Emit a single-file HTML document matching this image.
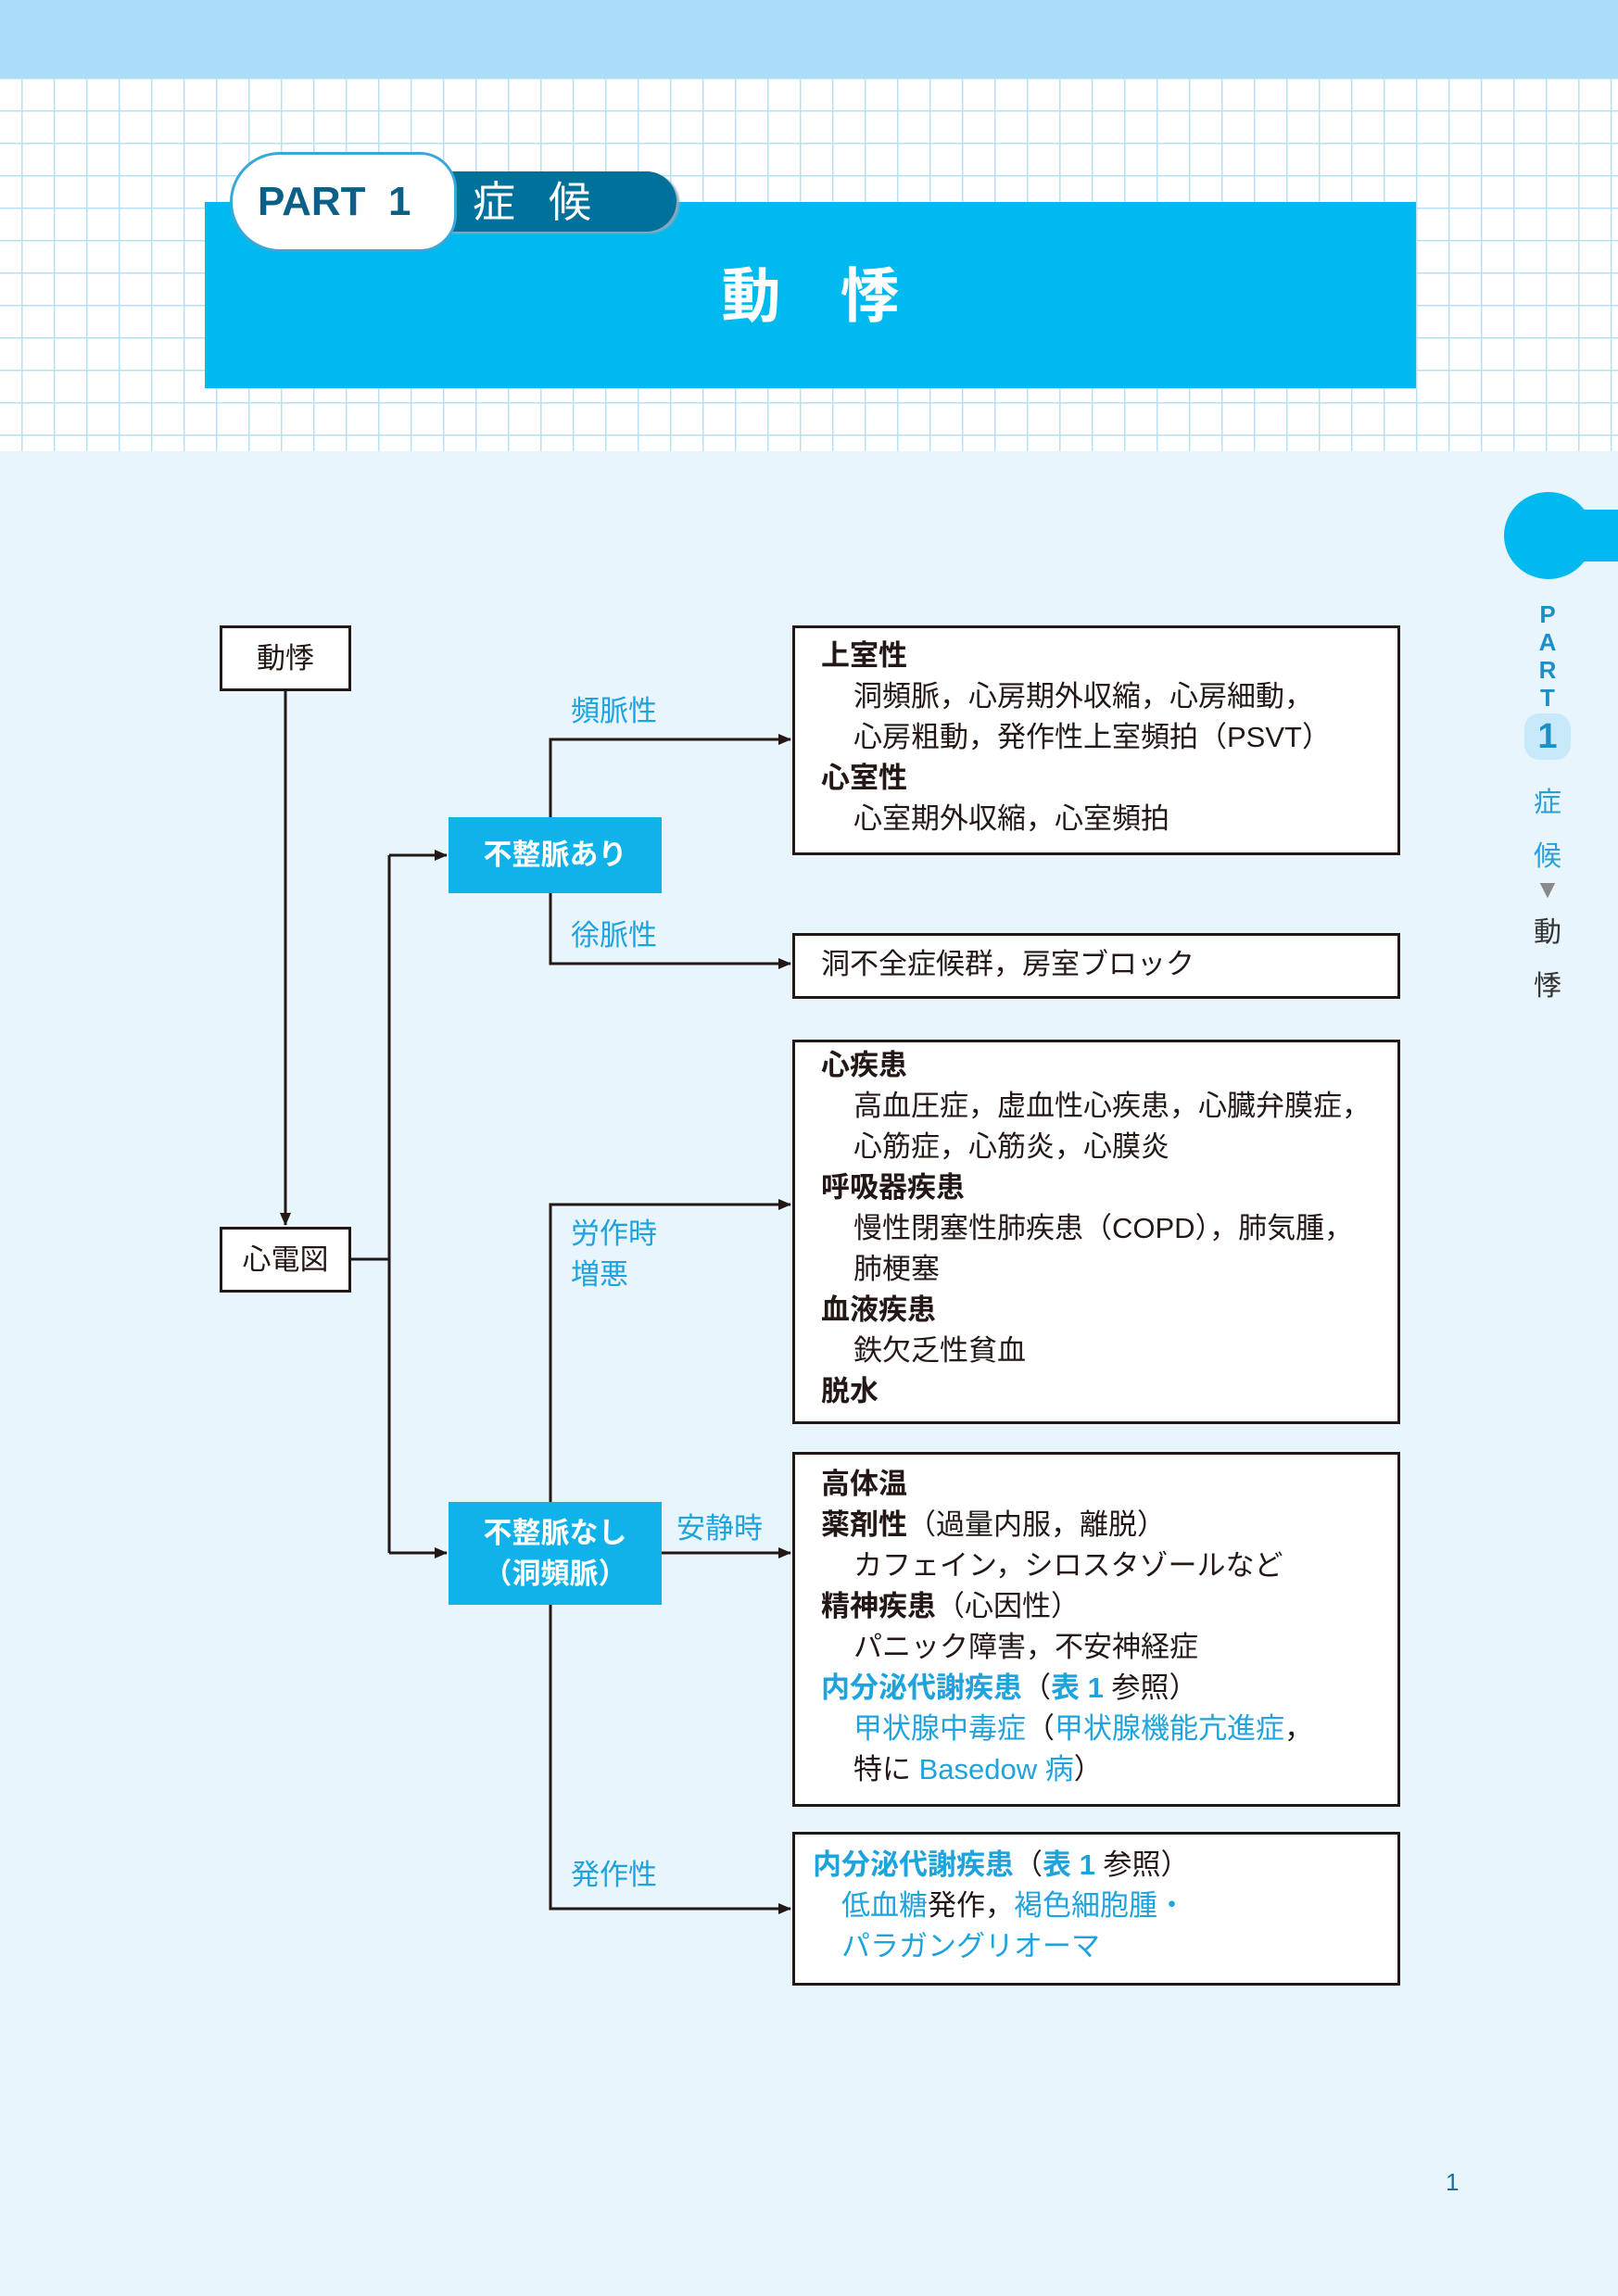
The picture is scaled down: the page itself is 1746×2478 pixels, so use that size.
<!DOCTYPE html>
<html><head><meta charset="utf-8">
<style>
*{margin:0;padding:0;box-sizing:border-box}
body{width:1746px;height:2478px;position:relative;background:#e8f5fd;overflow:hidden;font-family:"Liberation Sans","Noto Sans CJK JP",sans-serif;color:#231815}
.abs{position:absolute}
#top{left:0;top:0;width:1746px;height:84px;background:#a9ddf8}
#grid{left:0;top:84px;width:1746px;height:403px;background-color:#fff;background-image:linear-gradient(#b8e0f3 1.5px,transparent 1.5px),linear-gradient(90deg,#b8e0f3 1.5px,transparent 1.5px);background-size:35px 35px;background-position:-12px 0}
#bar{left:221px;top:218px;width:1307px;height:201px;background:#00b9ef}
#title{left:221px;top:280px;width:1307px;text-align:center;color:#fff;font-size:64px;font-weight:bold;letter-spacing:64px;padding-left:64px;line-height:80px}
#tab{left:440px;top:185px;width:290px;height:65px;background:#00719a;border-radius:0 34px 34px 0;box-shadow:3px 2px 2px #8ab}
#tabt{left:510px;top:188px;color:#fff;font-size:46px;line-height:60px;letter-spacing:36px}
#pill{left:248px;top:164px;width:245px;height:108px;background:#fff;border:3px solid #38a8d8;border-radius:54px 40px 40px 54px}
#pillt{left:278px;top:190px;color:#0c5f86;font-size:44px;font-weight:bold;line-height:56px}
.box{position:absolute;border:3px solid #231815;background:#fff}
.blue{color:#1fa3dd}
.node{position:absolute;background:#10b2ea;color:#fff;font-weight:bold;font-size:31px;text-align:center;display:flex;align-items:center;justify-content:center;line-height:44px}
.lbl{position:absolute;color:#1fa3dd;font-size:31px;line-height:44px}
.txt{position:absolute;font-size:31px;line-height:44px;white-space:nowrap}
b{font-weight:bold}
.i{padding-left:35px}
</style></head><body>
<div id="top" class="abs"></div>
<div id="grid" class="abs"></div>
<div id="bar" class="abs"></div>
<div id="title" class="abs">動悸</div>
<div id="tab" class="abs"></div>
<div id="tabt" class="abs">症候</div>
<div id="pill" class="abs"></div>
<div id="pillt" class="abs">PART&nbsp; 1</div>

<div class="abs" style="left:1670px;top:550px;width:76px;height:56px;background:#00b9ef"></div>
<div class="abs" style="left:1623px;top:531px;width:96px;height:94px;border-radius:50%;background:#00b9ef"></div>
<div class="abs" style="left:1650px;top:648px;width:40px;text-align:center;color:#1b8fc6;font-weight:bold;font-size:26px;line-height:30px">P<br>A<br>R<br>T</div>
<div class="abs" style="left:1645px;top:770px;width:50px;height:50px;border-radius:16px;background:#c8e9fa;color:#1b8fc6;font-weight:bold;font-size:38px;text-align:center;line-height:50px">1</div>
<div class="abs" style="left:1650px;top:838px;width:40px;text-align:center;color:#2aa0d8;font-size:30px;line-height:58px">症<br>候</div>
<div class="abs" style="left:1650px;top:943px;width:40px;text-align:center;color:#8a8a8a;font-size:28px;line-height:34px">▼</div>
<div class="abs" style="left:1650px;top:978px;width:40px;text-align:center;color:#333;font-size:30px;line-height:58px">動<br>悸</div>
<div class="abs" style="left:1560px;top:2340px;font-size:26px;color:#1b6fa0">1</div>

<svg class="abs" style="left:0;top:0" width="1746" height="2478">
<defs><marker id="a" markerWidth="14" markerHeight="14" refX="13" refY="7" orient="auto" markerUnits="userSpaceOnUse"><path d="M0,1 L14,7 L0,13z" fill="#231815"/></marker></defs>
<g stroke="#231815" stroke-width="3" fill="none">
<line x1="308" y1="746" x2="308" y2="1322" marker-end="url(#a)"/>
<polyline points="379,1359 420,1359"/>
<line x1="420" y1="923" x2="420" y2="1676"/>
<line x1="420" y1="923" x2="482" y2="923" marker-end="url(#a)"/>
<line x1="420" y1="1676" x2="482" y2="1676" marker-end="url(#a)"/>
<polyline points="594,882 594,798 853,798" marker-end="url(#a)"/>
<polyline points="594,964 594,1040 853,1040" marker-end="url(#a)"/>
<polyline points="594,1621 594,1300 853,1300" marker-end="url(#a)"/>
<polyline points="594,1732 594,2060 853,2060" marker-end="url(#a)"/>
<line x1="714" y1="1676" x2="853" y2="1676" marker-end="url(#a)"/>
</g></svg>

<div class="box" style="left:237px;top:675px;width:142px;height:71px"></div>
<div class="txt" style="left:237px;top:689px;width:142px;text-align:center">動悸</div>
<div class="box" style="left:237px;top:1324px;width:142px;height:71px"></div>
<div class="txt" style="left:237px;top:1338px;width:142px;text-align:center">心電図</div>

<div class="node" style="left:484px;top:882px;width:230px;height:82px">不整脈あり</div>
<div class="node" style="left:484px;top:1621px;width:230px;height:111px">不整脈なし<br>（洞頻脈）</div>

<div class="lbl" style="left:616px;top:746px">頻脈性</div>
<div class="lbl" style="left:616px;top:988px">徐脈性</div>
<div class="lbl" style="left:616px;top:1310px">労作時<br>増悪</div>
<div class="lbl" style="left:730px;top:1628px">安静時</div>
<div class="lbl" style="left:616px;top:2002px">発作性</div>

<div class="box" style="left:855px;top:675px;width:656px;height:248px"></div>
<div class="txt" style="left:886px;top:686px"><b>上室性</b><br><span class="i">洞頻脈，心房期外収縮，心房細動，</span><br><span class="i">心房粗動，発作性上室頻拍（PSVT）</span><br><b>心室性</b><br><span class="i">心室期外収縮，心室頻拍</span></div>

<div class="box" style="left:855px;top:1007px;width:656px;height:71px"></div>
<div class="txt" style="left:886px;top:1019px">洞不全症候群，房室ブロック</div>

<div class="box" style="left:855px;top:1122px;width:656px;height:415px"></div>
<div class="txt" style="left:886px;top:1128px"><b>心疾患</b><br><span class="i">高血圧症，虚血性心疾患，心臓弁膜症，</span><br><span class="i">心筋症，心筋炎，心膜炎</span><br><b>呼吸器疾患</b><br><span class="i">慢性閉塞性肺疾患（COPD），肺気腫，</span><br><span class="i">肺梗塞</span><br><b>血液疾患</b><br><span class="i">鉄欠乏性貧血</span><br><b>脱水</b></div>

<div class="box" style="left:855px;top:1567px;width:656px;height:383px"></div>
<div class="txt" style="left:886px;top:1580px"><b>高体温</b><br><b>薬剤性</b>（過量内服，離脱）<br><span class="i">カフェイン，シロスタゾールなど</span><br><b>精神疾患</b>（心因性）<br><span class="i">パニック障害，不安神経症</span><br><b class="blue">内分泌代謝疾患</b>（<b class="blue">表 1</b> 参照）<br><span class="i"><span class="blue">甲状腺中毒症</span>（<span class="blue">甲状腺機能亢進症</span>，</span><br><span class="i">特に <span class="blue">Basedow 病</span>）</span></div>

<div class="box" style="left:855px;top:1977px;width:656px;height:166px"></div>
<div class="txt" style="left:877px;top:1991px"><b class="blue">内分泌代謝疾患</b>（<b class="blue">表 1</b> 参照）<br><span class="i" style="padding-left:31px"><span class="blue">低血糖</span>発作，<span class="blue">褐色細胞腫・</span></span><br><span class="blue" style="padding-left:31px">パラガングリオーマ</span></div>
</body></html>
